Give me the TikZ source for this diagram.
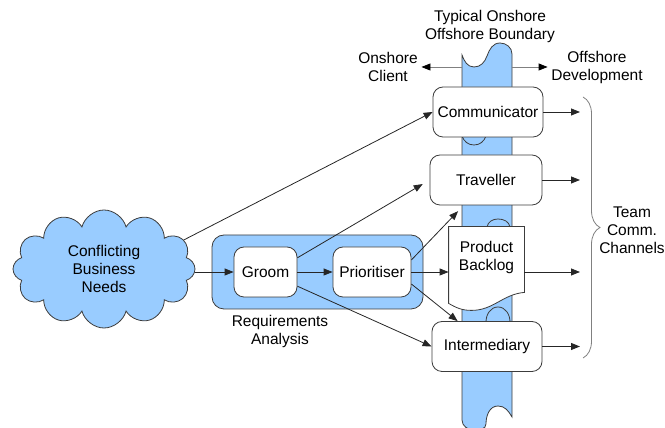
\documentclass[tikz,border=0pt]{standalone}
\usepackage{fontspec}
\setmainfont{Liberation Sans}
\usetikzlibrary{shapes.symbols, arrows.meta, decorations.pathreplacing}
\usepackage{xcolor}
\definecolor{tapeblue}{HTML}{99CCFF}
\definecolor{edgegray}{HTML}{3C3C3C}

\begin{document}
\begin{tikzpicture}[
    x=1pt, y=1pt, line width=0.8pt,
    font=\fontsize{15.5}{18}\selectfont,
    role/.style={rectangle, rounded corners=10pt, draw=edgegray, fill=white, minimum width=110pt, minimum height=50pt, align=center},
    stage/.style={role, minimum width=63pt},
    textnote/.style={align=center},
    arrow/.style={-{Triangle[length=9pt,width=7pt]}, draw=black!85},
    sidearrow/.style={-{Triangle[length=9pt,width=7pt,color=black]}, draw=gray}
]
    \useasboundingbox (0,0) rectangle (665,428);

    % onshore / offshore boundary tape
    \draw[draw=edgegray, fill=tapeblue] (462,373) to[out=-70,in=180] (474,361) to[out=0,in=-110] (487,372)
        to[out=70,in=180] (500,385) to[out=0,in=90] (512,374) -- (512,11) to[out=120,in=0] (498,22)
        to[out=180,in=90] (486,4) to[out=-90,in=0] (474,-2) to[out=180,in=-90] (462,8) -- cycle;
    \draw[edgegray] (462,292) to[out=-70,in=180] (474,283) to[out=0,in=-110] (486,292);
    \draw[edgegray] (487,201) to[out=80,in=180] (498,209) to[out=0,in=100] (510,201);
    \draw[edgegray] (486,106) to[out=90,in=180] (498,121) to[out=0,in=90] (510,106);

    \node[textnote] (boundary) at (490,402) {Typical Onshore\\Offshore Boundary};
    \node[textnote] (onshore) at (388,361) {Onshore\\Client};
    \node[textnote] (offshore) at (597,361) {Offshore\\Development};
    \coordinate (tapeleft) at (462,361);
    \coordinate (taperight) at (512,361);
    \draw[sidearrow] (tapeleft) -- (onshore);
    \draw[sidearrow] (taperight) -- (offshore);

    % communication roles
    \node[role] (comm) at (488,316) {Communicator};
    \node[role, minimum width=112pt] (trav) at (486,248) {Traveller};
    \node[role] (inter) at (487,81.5) {Intermediary};

    % product backlog document
    \node[rectangle, minimum width=75pt, minimum height=76pt] (backlog) at (486.5,163) {};
    \draw[draw=edgegray, fill=white] (backlog.north west) -- (backlog.north east) -- ([yshift=11pt]backlog.south east)
        to[out=185,in=0] ([xshift=23pt,yshift=-7pt]backlog.south west) to[out=180,in=-30] (backlog.south west) -- cycle;
    \node[textnote] (backlogtext) at (486.5,170.5) {Product\\Backlog};

    % requirements analysis
    \node[rectangle, rounded corners=12pt, draw=edgegray, fill=tapeblue, minimum width=211pt, minimum height=74pt] (reqs) at (317.5,156) {};
    \node[stage] (groom) at (265.5,156) {Groom};
    \node[stage, minimum width=78pt] (prior) at (372,156) {Prioritiser};
    \node[textnote] (reqlabel) at (280,97) {Requirements\\Analysis};

    \node[cloud, cloud puffs=12, aspect=1.55, draw=edgegray, fill=tapeblue, minimum width=182pt, minimum height=118pt, inner sep=0pt, align=center] (needs) at (104,159) {Conflicting\\Business\\Needs};

    % team channels
    \node[textnote] (channels) at (632,198) {Team\\Comm.\\Channels};
    \coordinate (bracetop) at (583,331);
    \coordinate (bracebottom) at (583,70);
    \draw[gray, decorate, decoration={brace, amplitude=17pt}] (bracetop) -- (bracebottom);
    \coordinate (chanx) at (580,0);

    \foreach \n in {comm, trav, inter}
        \draw[arrow] (\n.east) -- (\n.east -| chanx);
    \draw[arrow] (backlog.east |- prior) -- (prior -| chanx);

    \draw[arrow] (needs.20) -- (comm.west);
    \draw[arrow] (groom.west -| needs.east) -- (groom.west);
    \draw[arrow] (groom) -- (prior);
    \draw[arrow, shorten >=8pt] (groom.24) -- (trav.west);
    \draw[arrow] (groom.-24) -- (inter.west);
    \draw[arrow, shorten >=8pt] (prior.17) -- ([xshift=34pt]trav.south west);
    \draw[arrow] (prior.east) -- (prior.east -| backlog.west);
    \draw[arrow] (prior.-17) -- ([xshift=26pt]inter.north west);
\end{tikzpicture}
\end{document}
